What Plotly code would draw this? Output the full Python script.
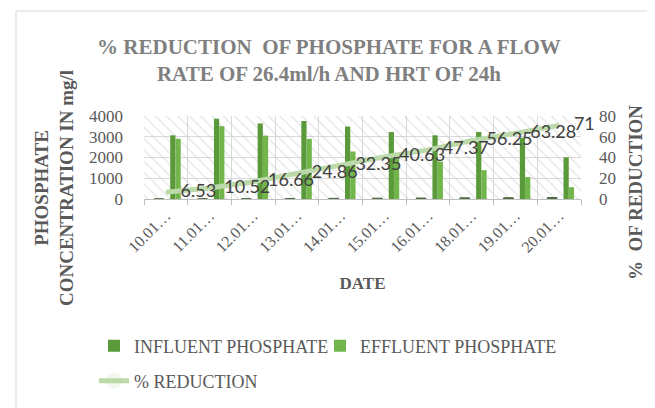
import plotly.graph_objects as go

# ---------------- data ----------------
dates = ["10.01…", "11.01…", "12.01…", "13.01…", "14.01…",
         "15.01…", "16.01…", "18.01…", "19.01…", "20.01…"]
influent = [3070, 3870, 3640, 3760, 3490, 3230, 3070, 3230, 2950, 2010]
effluent = [2900, 3510, 3050, 2900, 2290, 1950, 1800, 1390, 1060, 570]
reduction = [6.53, 10.52, 16.66, 24.86, 32.35, 40.63, 47.37, 56.25, 63.28, 71]
reduction_labels = ["6.53", "10.52", "16.66", "24.86", "32.35",
                    "40.63", "47.37", "56.25", "63.28", "71"]

Y1_MAX = 4000
Y2_MAX = 80

SERIF = "Liberation Serif, Times New Roman, serif"
GRAY = "#595959"

PT, PB = 108, 191          # plot-area top / bottom (px)
PL, PR = 136, 573          # plot-area left / right (px)
PH, PW = PB - PT, PR - PL

fig = go.Figure()

# hatched plot-area background
fig.add_trace(go.Bar(
    x=dates, y=[Y1_MAX] * len(dates), width=1, offset=-0.5,
    marker=dict(color="rgba(255,255,255,0)", line=dict(width=0),
                pattern=dict(shape="\\", fgcolor="#c9c9c9", size=8, solidity=0.15)),
    hoverinfo="skip", showlegend=False,
))

# tiny columns (percentage plotted on concentration scale)
fig.add_trace(go.Bar(
    x=dates, y=reduction, width=0.22, offset=-0.27,
    marker=dict(color="#4f6b3f", line=dict(color="#4f6b3f", width=1)),
    showlegend=False, hoverinfo="skip",
))

fig.add_trace(go.Bar(
    name="INFLUENT PHOSPHATE", x=dates, y=influent, width=0.12, offset=0.1,
    marker=dict(color="#5b9a3b", line=dict(width=0)), legend="legend",
))
fig.add_trace(go.Bar(
    name="EFFLUENT PHOSPHATE", x=dates, y=effluent, width=0.12, offset=0.22,
    marker=dict(color="#72b54b", line=dict(width=0)), legend="legend2",
))

fig.add_trace(go.Scatter(
    name="% REDUCTION", x=dates, y=reduction, yaxis="y2",
    mode="lines+markers+text",
    line=dict(color="#bcdaa9", width=5),
    marker=dict(size=22, opacity=0, color="#bcdaa9"),
    text=reduction_labels, textposition="middle right",
    textfont=dict(family="Lato, sans-serif", size=18, color="#404040"),
    legend="legend3", cliponaxis=False,
))

leg_font = dict(family=SERIF, size=18, color=GRAY)

fig.update_layout(
    width=655, height=408,
    margin=dict(l=PL, r=655 - PR, t=PT, b=408 - PB, autoexpand=False),
    paper_bgcolor="white", plot_bgcolor="white",
    barmode="overlay",
    title=dict(
        text="% REDUCTION  OF PHOSPHATE FOR A FLOW<br>RATE OF 26.4ml/h AND HRT OF 24h",
        x=0.49, xanchor="center", y=1 - 46 / 408, yanchor="top",
        font=dict(family=SERIF, size=21, color="#7f7f7f", weight="bold"),
    ),
    xaxis=dict(
        type="category", range=[-0.5, len(dates) - 0.5],
        tickson="boundaries", showgrid=True, gridcolor="#d9d9d9",
        ticks="outside", ticklen=5, tickcolor="#bfbfbf",
        showline=True, linecolor="#bfbfbf",
        tickangle=-45, tickfont=dict(family=SERIF, size=16, color=GRAY),
        title=dict(text="DATE", standoff=22,
                   font=dict(family=SERIF, size=17, color=GRAY, weight="bold")),
        automargin=False,
    ),
    yaxis=dict(
        range=[0, Y1_MAX], dtick=1000, showgrid=True, gridcolor="#d9d9d9",
        zeroline=False, tickfont=dict(family=SERIF, size=17, color=GRAY),
        ticklabelstandoff=20, automargin=False,
    ),
    yaxis2=dict(
        range=[0, Y2_MAX], dtick=20, overlaying="y", side="right", showgrid=False,
        zeroline=False, tickfont=dict(family=SERIF, size=17, color=GRAY),
        ticklabelstandoff=17, automargin=False,
    ),
    legend=dict(
        xref="container", yref="container", itemwidth=30,
        x=86 / 655, xanchor="left", y=1 - 338 / 408, yanchor="middle",
        font=leg_font, bgcolor="rgba(0,0,0,0)",
    ),
    legend2=dict(
        xref="container", yref="container", itemwidth=30,
        x=312 / 655, xanchor="left", y=1 - 338 / 408, yanchor="middle",
        font=leg_font, bgcolor="rgba(0,0,0,0)",
    ),
    legend3=dict(
        xref="container", yref="container", itemwidth=30,
        x=86 / 655, xanchor="left", y=1 - 373 / 408, yanchor="middle",
        font=leg_font, bgcolor="rgba(0,0,0,0)",
    ),
    showlegend=True,
    annotations=[
        dict(text="PHOSPHATE<br>CONCENTRATION IN mg/l", textangle=-90,
             xref="paper", yref="paper", x=(46 - PL) / PW, y=(PB - 180) / PH,
             xanchor="center", yanchor="middle", showarrow=False,
             font=dict(family=SERIF, size=19, color=GRAY, weight="bold")),
        dict(text="%  OF REDUCTION", textangle=-90,
             xref="paper", yref="paper", x=(627 - PL) / PW, y=(PB - 185) / PH,
             xanchor="center", yanchor="middle", showarrow=False,
             font=dict(family=SERIF, size=19, color=GRAY, weight="bold")),
    ],
    shapes=[
        dict(type="rect", xref="paper", yref="paper",
             x0=(8 - PL) / PW, x1=(652 - PL) / PW,
             y0=(PB - 405) / PH, y1=(PB - 3) / PH,
             line=dict(color="#d9d9d9", width=1), fillcolor="rgba(0,0,0,0)", layer="below"),
    ],
)

fig.write_html("out.html")
